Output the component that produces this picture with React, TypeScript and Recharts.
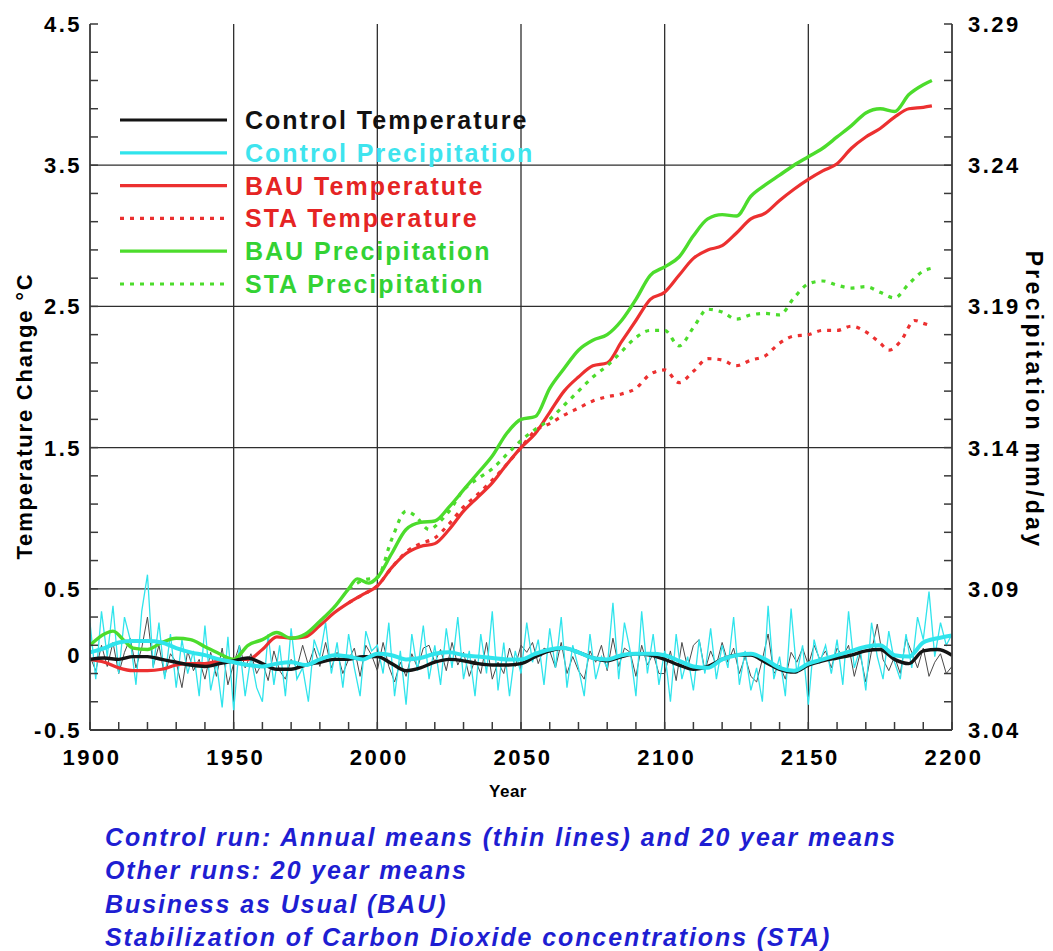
import React from 'react';
import { LineChart, Line, XAxis, YAxis, ReferenceLine } from 'recharts';

const FONT = "'Liberation Sans', Arial, Helvetica, sans-serif";
const AXIS_COLOR = '#3a3a3a';
const GRID_COLOR = '#2e2e2e';

const BLACK = '#141414';
const CYAN = '#30e4ec';
const RED = '#ec3030';
const GREEN = '#4cdc2c';

// axes
const X_TICKS = [1900, 1910, 1920, 1930, 1940, 1950, 1960, 1970, 1980, 1990, 2000, 2010, 2020, 2030, 2040, 2050,
  2060, 2070, 2080, 2090, 2100, 2110, 2120, 2130, 2140, 2150, 2160, 2170, 2180, 2190, 2200];
const X_LABELS = [1900, 1950, 2000, 2050, 2100, 2150, 2200];
const X_GRID = [1950, 2000, 2050, 2100, 2150];

const TEMP_TICKS = [-0.5, -0.3, -0.1, 0, 0.1, 0.3, 0.5, 0.7, 0.9, 1.1, 1.3, 1.5, 1.7, 1.9, 2.1, 2.3, 2.5, 2.7, 2.9,
  3.1, 3.3, 3.5, 3.7, 3.9, 4.1, 4.3, 4.5];
const TEMP_LABELS = [-0.5, 0, 0.5, 1.5, 2.5, 3.5, 4.5];
const TEMP_GRID = [0.5, 1.5, 2.5, 3.5];

const PRECIP_TICKS = [3.04, 3.05, 3.06, 3.07, 3.08, 3.09, 3.1, 3.11, 3.12, 3.13, 3.14, 3.15, 3.16, 3.17, 3.18,
  3.19, 3.2, 3.21, 3.22, 3.23, 3.24, 3.25, 3.26, 3.27, 3.28, 3.29];
const PRECIP_LABELS = [3.04, 3.09, 3.14, 3.19, 3.24, 3.29];

// control run, annual means (every 2nd year)
const ANNUAL_YEARS = Array.from({ length: 151 }, (_, i) => 1900 + 2 * i);
const CONTROL_TEMP_ANNUAL = [
  0.02, -0.08, 0.1, -0.05, 0.12, -0.1, 0.05, 0.15, -0.06, 0.08,
  0.3, -0.05, 0.1, -0.12, 0.04, -0.02, -0.2, 0.06, -0.08, 0.0,
  -0.14, 0.05, -0.12, 0.08, -0.18, -0.03, 0.1, -0.06, 0.04, -0.1,
  -0.02, -0.15, 0.06, -0.08, -0.14, 0.0, -0.06, 0.1, -0.04, 0.08,
  -0.05, 0.12, -0.06, 0.05, -0.1, 0.0, 0.08, -0.12, 0.1, 0.03,
  -0.08, 0.12, -0.05, -0.16, -0.02, -0.12, 0.04, -0.06, 0.08, 0.1,
  -0.02, 0.07, -0.08, 0.12, -0.04, 0.05, -0.12, 0.0, -0.1, 0.12,
  -0.14, -0.02, -0.1, 0.08, -0.05, 0.1, 0.05, 0.12, -0.03, 0.08,
  0.06, -0.06, 0.12, -0.1, 0.02, -0.08, -0.14, 0.06, -0.02, 0.1,
  -0.08, 0.15, -0.05, 0.08, 0.05, -0.12, 0.1, -0.04, 0.04, -0.1,
  -0.1, 0.06, -0.15, 0.12, -0.06, 0.1, 0.14, -0.08, 0.06, -0.04,
  0.12, -0.02, 0.08, -0.1, 0.02, -0.12, -0.16, 0.0, 0.18, -0.1,
  -0.04, -0.14, 0.05, -0.02, 0.08, -0.04, 0.1, 0.0, 0.06, -0.06,
  0.08, 0.02, 0.1, -0.12, 0.04, -0.16, 0.06, 0.25, 0.0, -0.08,
  0.02, -0.1, 0.15, 0.05, -0.06, 0.08, -0.12, -0.02, 0.04, -0.1,
  -0.05,
];
const CONTROL_PRECIP_ANNUAL = [
  3.078, 3.058, 3.082, 3.066, 3.084, 3.06, 3.08, 3.072, 3.056, 3.082,
  3.095, 3.062, 3.078, 3.058, 3.074, 3.055, 3.072, 3.06, 3.068, 3.052,
  3.077, 3.054, 3.064, 3.048, 3.073, 3.047, 3.07, 3.052, 3.066, 3.055,
  3.05, 3.074, 3.056, 3.07, 3.052, 3.076, 3.058, 3.062, 3.05, 3.072,
  3.066, 3.078, 3.06, 3.071, 3.055, 3.074, 3.062, 3.052, 3.075, 3.068,
  3.07, 3.06, 3.078, 3.052, 3.068, 3.049, 3.074, 3.061, 3.077, 3.058,
  3.07, 3.056, 3.076, 3.062, 3.08, 3.058, 3.068, 3.052, 3.074, 3.06,
  3.082, 3.054, 3.071, 3.052, 3.068, 3.06, 3.078, 3.064, 3.072, 3.056,
  3.076, 3.062, 3.08, 3.055, 3.07, 3.062, 3.052, 3.074, 3.058, 3.066,
  3.062, 3.085, 3.058, 3.078, 3.068, 3.052, 3.082, 3.06, 3.074, 3.056,
  3.068, 3.05, 3.074, 3.058, 3.066, 3.054, 3.072, 3.06, 3.076, 3.058,
  3.07, 3.062, 3.08, 3.056, 3.068, 3.054, 3.062, 3.05, 3.084, 3.058,
  3.066, 3.052, 3.083, 3.06, 3.07, 3.049, 3.072, 3.064, 3.07, 3.06,
  3.072, 3.056, 3.082, 3.062, 3.069, 3.054, 3.078, 3.066, 3.058, 3.075,
  3.064, 3.058, 3.074, 3.062, 3.08, 3.072, 3.089, 3.066, 3.078, 3.07,
  3.074,
];

// control run, 20 year means (every 5th year)
const MEAN_YEARS = Array.from({ length: 61 }, (_, i) => 1900 + 5 * i);
const CONTROL_TEMP_MEAN = [
  0.0, 0.01, 0.0, 0.02, 0.02, 0.0, -0.02, -0.04, -0.05, -0.03,
  -0.01, 0.01, -0.03, -0.07, -0.07, -0.04, -0.02, 0.0, 0.0, 0.02,
  0.02, -0.03, -0.08, -0.06, -0.02, 0.0, -0.01, -0.03, -0.04, -0.04,
  -0.03, 0.02, 0.06, 0.08, 0.05, 0.01, -0.01, 0.02, 0.04, 0.03,
  0.0, -0.04, -0.07, -0.05, 0.0, 0.03, 0.03, -0.02, -0.07, -0.09,
  -0.04, -0.01, 0.01, 0.03, 0.06, 0.07, 0.0, -0.03, 0.06, 0.07,
  0.03,
];
const CONTROL_PRECIP_MEAN = [
  3.0675, 3.069, 3.071, 3.0715, 3.0715, 3.071, 3.069, 3.0675, 3.0665, 3.065,
  3.064, 3.063, 3.0625, 3.0635, 3.064, 3.063, 3.065, 3.0665, 3.066, 3.065,
  3.067, 3.0665, 3.065, 3.0655, 3.067, 3.0675, 3.0665, 3.066, 3.0655, 3.065,
  3.065, 3.067, 3.0685, 3.069, 3.0675, 3.0655, 3.065, 3.0665, 3.067, 3.067,
  3.0665, 3.0645, 3.0625, 3.062, 3.065, 3.0665, 3.067, 3.065, 3.062, 3.061,
  3.0635, 3.065, 3.0665, 3.068, 3.0695, 3.07, 3.0665, 3.066, 3.071, 3.0725,
  3.0735,
];

// Business as Usual, 20 year means
const BAU_TEMP_YEARS = [1900, 1905, 1910, 1915, 1920, 1925, 1930, 1935, 1940, 1945, 1950, 1955, 1960, 1965, 1970,
  1975, 1980, 1985, 1990, 1995, 2000, 2005, 2010, 2015, 2020, 2025, 2030, 2035, 2040, 2045, 2050, 2055, 2060, 2065,
  2070, 2075, 2080, 2085, 2090, 2095, 2100, 2105, 2110, 2115, 2120, 2125, 2130, 2135, 2140, 2145, 2150, 2155, 2160,
  2165, 2170, 2175, 2180, 2185, 2190, 2193];
const BAU_TEMP = [0.0, -0.02, -0.06, -0.08, -0.08, -0.07, -0.04, -0.03, -0.03, -0.01, 0.0, 0.0, 0.07, 0.16, 0.15,
  0.16, 0.24, 0.33, 0.4, 0.46, 0.52, 0.65, 0.75, 0.8, 0.82, 0.92, 1.05, 1.15, 1.25, 1.38, 1.5, 1.6, 1.75, 1.9,
  2.0, 2.08, 2.1, 2.25, 2.4, 2.55, 2.6, 2.72, 2.84, 2.9, 2.93, 3.02, 3.12, 3.16, 3.25, 3.33, 3.4, 3.46, 3.51,
  3.62, 3.7, 3.76, 3.84, 3.9, 3.91, 3.92];

const BAU_PRECIP_YEARS = [1900, 1905, 1908, 1912, 1915, 1920, 1925, 1930, 1935, 1940, 1945, 1950, 1955, 1960, 1965,
  1970, 1975, 1980, 1985, 1990, 1993, 1997, 2000, 2005, 2010, 2015, 2020, 2025, 2030, 2035, 2040, 2045, 2050, 2055,
  2060, 2065, 2070, 2075, 2080, 2085, 2090, 2095, 2100, 2105, 2110, 2115, 2120, 2125, 2130, 2135, 2140, 2145, 2150,
  2155, 2160, 2165, 2170, 2175, 2180, 2185, 2190, 2193];
const BAU_PRECIP = [3.07, 3.074, 3.075, 3.0715, 3.069, 3.0685, 3.071, 3.0725, 3.072, 3.0695, 3.067, 3.065, 3.07,
  3.072, 3.0745, 3.0725, 3.074, 3.0785, 3.0835, 3.09, 3.0935, 3.092, 3.094, 3.1025, 3.111, 3.1135, 3.114, 3.119,
  3.125, 3.131, 3.137, 3.145, 3.15, 3.151, 3.161, 3.168, 3.1745, 3.178, 3.18, 3.185, 3.1925, 3.201, 3.204,
  3.2075, 3.215, 3.221, 3.2225, 3.222, 3.229, 3.233, 3.2365, 3.24, 3.243, 3.246, 3.25, 3.254, 3.2585, 3.26,
  3.259, 3.265, 3.2685, 3.27];

// Stabilization of CO2, 20 year means
const STA_TEMP_YEARS = [1990, 1995, 2000, 2005, 2010, 2015, 2020, 2025, 2030, 2035, 2040, 2045, 2050, 2055, 2060,
  2065, 2070, 2075, 2080, 2085, 2090, 2095, 2100, 2105, 2110, 2115, 2120, 2125, 2130, 2135, 2140, 2145, 2150, 2155,
  2160, 2165, 2170, 2175, 2178, 2182, 2187, 2190, 2193];
const STA_TEMP = [0.4, 0.46, 0.52, 0.65, 0.76, 0.82, 0.86, 0.96, 1.08, 1.17, 1.27, 1.38, 1.5, 1.62, 1.67, 1.73,
  1.78, 1.83, 1.86, 1.88, 1.92, 2.02, 2.05, 1.96, 2.04, 2.13, 2.12, 2.08, 2.12, 2.15, 2.24, 2.29, 2.3, 2.33, 2.33,
  2.36, 2.32, 2.24, 2.19, 2.25, 2.4, 2.38, 2.36];

const STA_PRECIP_YEARS = [1990, 1995, 2000, 2005, 2010, 2013, 2018, 2022, 2025, 2030, 2035, 2040, 2045, 2050, 2055,
  2060, 2065, 2070, 2075, 2080, 2085, 2090, 2095, 2100, 2105, 2110, 2115, 2120, 2125, 2130, 2135, 2140, 2145, 2150,
  2155, 2160, 2165, 2170, 2175, 2180, 2185, 2190, 2193];
const STA_PRECIP = [3.09, 3.093, 3.094, 3.1075, 3.1175, 3.116, 3.111, 3.114, 3.1175, 3.125, 3.129, 3.1325, 3.1375,
  3.1425, 3.1465, 3.15, 3.155, 3.16, 3.165, 3.169, 3.174, 3.179, 3.1815, 3.1815, 3.176, 3.1825, 3.189, 3.188,
  3.1855, 3.187, 3.1875, 3.187, 3.193, 3.198, 3.199, 3.1975, 3.1965, 3.197, 3.195, 3.193, 3.198, 3.2025, 3.2035];

const LEGEND = [
  { label: 'Control Temperature', color: BLACK, text: '#111', dash: undefined },
  { label: 'Control Precipitation', color: CYAN, text: '#3ee4ee', dash: undefined },
  { label: 'BAU Temperatute', color: RED, text: '#e52424', dash: undefined },
  { label: 'STA Temperature', color: RED, text: '#e52424', dash: '4 6' },
  { label: 'BAU Precipitation', color: GREEN, text: '#33d233', dash: undefined },
  { label: 'STA Precipitation', color: GREEN, text: '#33d233', dash: '4 6' },
];

const NOTES = [
  'Control run: Annual means (thin lines) and 20 year means',
  'Other runs: 20 year means',
  'Business as Usual (BAU)',
  'Stabilization of Carbon Dioxide concentrations (STA)',
];

const toSeries = (years: number[], values: number[]) => years.map((year, i) => ({ year, v: values[i] }));

const TICK_LEN = 8;
const labelStyle = { fontFamily: FONT, fontWeight: 700, fontSize: 22, letterSpacing: 2.5, fill: '#000' };

// inward tick marks + labels, drawn by hand since recharts only draws outward ticks
const BottomTick = (p: any) => {
  const v = p.payload.value;
  const base = p.y - 19;
  return (
    <g>
      <line x1={p.x} x2={p.x} y1={base} y2={base - TICK_LEN} stroke={AXIS_COLOR} strokeWidth={1.5} />
      {X_LABELS.includes(v) && (
        <text x={p.x + 2} y={p.y} dy="0.72em" textAnchor="middle" {...labelStyle}>{v}</text>
      )}
    </g>
  );
};

const TopTick = (p: any) => (
  <line x1={p.x} x2={p.x} y1={p.y} y2={p.y + TICK_LEN} stroke={AXIS_COLOR} strokeWidth={1.5} />
);

const LeftTick = (p: any) => {
  const v = p.payload.value;
  const base = p.x + 8;
  return (
    <g>
      {v !== 0 && <line x1={base} x2={base + TICK_LEN} y1={p.y} y2={p.y} stroke={AXIS_COLOR} strokeWidth={1.5} />}
      {TEMP_LABELS.includes(v) && (
        <text x={p.x} y={v === 0 ? p.y - 4 : p.y} dy="0.36em" textAnchor="end" {...labelStyle}>{String(v)}</text>
      )}
    </g>
  );
};

const RightTick = (p: any) => {
  const v = p.payload.value;
  const base = p.x - 16;
  return (
    <g>
      <line x1={base} x2={base - TICK_LEN} y1={p.y} y2={p.y} stroke={AXIS_COLOR} strokeWidth={1.5} />
      {PRECIP_LABELS.includes(v) && (
        <text x={p.x} y={p.y} dy="0.36em" textAnchor="start" {...labelStyle}>{v.toFixed(2)}</text>
      )}
    </g>
  );
};

export default function App() {
  return (
    <div style={{ position: 'absolute', left: 0, top: 0, width: 1053, height: 951, background: '#fff' }}>
      <LineChart width={1053} height={800} margin={{ top: 24, right: 0, bottom: 0, left: 0 }}>
        <XAxis xAxisId="bottom" dataKey="year" type="number" domain={[1900, 2200]} ticks={X_TICKS} interval={0}
          height={70} tickSize={0} tickMargin={19} tickLine={false} tick={<BottomTick />}
          axisLine={{ stroke: AXIS_COLOR, strokeWidth: 1.8 }} allowDataOverflow />
        <XAxis xAxisId="top" orientation="top" dataKey="year" type="number" domain={[1900, 2200]} ticks={X_TICKS}
          interval={0} height={0} tickSize={0} tickMargin={0} tickLine={false} tick={<TopTick />}
          axisLine={{ stroke: AXIS_COLOR, strokeWidth: 1.8 }} allowDataOverflow />
        <YAxis yAxisId="left" type="number" domain={[-0.5, 4.5]} ticks={TEMP_TICKS} interval={0} width={90}
          tickSize={0} tickMargin={8} tickLine={false} tick={<LeftTick />}
          axisLine={{ stroke: AXIS_COLOR, strokeWidth: 1.8 }} allowDataOverflow />
        <YAxis yAxisId="right" orientation="right" type="number" domain={[3.04, 3.29]} ticks={PRECIP_TICKS}
          interval={0} width={101} tickSize={0} tickMargin={16} tickLine={false} tick={<RightTick />}
          axisLine={{ stroke: AXIS_COLOR, strokeWidth: 1.8 }} allowDataOverflow />

        {TEMP_GRID.map((v) => (
          <ReferenceLine key={`h${v}`} xAxisId="bottom" yAxisId="left" y={v} stroke={GRID_COLOR} strokeWidth={1.3} />
        ))}
        {X_GRID.map((v) => (
          <ReferenceLine key={`v${v}`} xAxisId="bottom" yAxisId="left" x={v} stroke={GRID_COLOR} strokeWidth={1.3} />
        ))}

        <Line xAxisId="bottom" yAxisId="left" data={toSeries(ANNUAL_YEARS, CONTROL_TEMP_ANNUAL)} dataKey="v"
          type="linear" stroke="#4a4a4a" strokeWidth={1} dot={false} activeDot={false} isAnimationActive={false} />
        <Line xAxisId="bottom" yAxisId="right" data={toSeries(ANNUAL_YEARS, CONTROL_PRECIP_ANNUAL)} dataKey="v"
          type="linear" stroke={CYAN} strokeWidth={1.3} dot={false} activeDot={false} isAnimationActive={false} />
        <Line xAxisId="bottom" yAxisId="left" data={toSeries(BAU_TEMP_YEARS, BAU_TEMP)} dataKey="v"
          type="monotone" stroke={RED} strokeWidth={3.2} dot={false} activeDot={false} isAnimationActive={false} />
        <Line xAxisId="bottom" yAxisId="left" data={toSeries(STA_TEMP_YEARS, STA_TEMP)} dataKey="v"
          type="monotone" stroke={RED} strokeWidth={3.2} strokeDasharray="4 6" dot={false} activeDot={false}
          isAnimationActive={false} />
        <Line xAxisId="bottom" yAxisId="right" data={toSeries(BAU_PRECIP_YEARS, BAU_PRECIP)} dataKey="v"
          type="monotone" stroke={GREEN} strokeWidth={3.4} dot={false} activeDot={false} isAnimationActive={false} />
        <Line xAxisId="bottom" yAxisId="right" data={toSeries(STA_PRECIP_YEARS, STA_PRECIP)} dataKey="v"
          type="monotone" stroke={GREEN} strokeWidth={3.2} strokeDasharray="4 6" dot={false} activeDot={false}
          isAnimationActive={false} />
        <Line xAxisId="bottom" yAxisId="left" data={toSeries(MEAN_YEARS, CONTROL_TEMP_MEAN)} dataKey="v"
          type="monotone" stroke={BLACK} strokeWidth={3.4} dot={false} activeDot={false} isAnimationActive={false} />
        <Line xAxisId="bottom" yAxisId="right" data={toSeries(MEAN_YEARS, CONTROL_PRECIP_MEAN)} dataKey="v"
          type="monotone" stroke={CYAN} strokeWidth={4} dot={false} activeDot={false} isAnimationActive={false} />
      </LineChart>

      {/* legend and axis titles */}
      <svg width={1053} height={820} style={{ position: 'absolute', left: 0, top: 0, pointerEvents: 'none' }}>
        {LEGEND.map((item, i) => {
          const y = 120 + i * 32.8;
          return (
            <g key={item.label}>
              <line x1={120} x2={227} y1={y} y2={y} stroke={item.color} strokeWidth={3.2} strokeDasharray={item.dash} />
              <text x={245} y={y} dy="0.36em" fontFamily={FONT} fontWeight={700} fontSize={25} letterSpacing={2}
                fill={item.text}>{item.label}</text>
            </g>
          );
        })}
        <text transform="translate(24,416) rotate(-90)" textAnchor="middle" dy="0.36em" fontFamily={FONT}
          fontWeight={700} fontSize={22} letterSpacing={1.8} fill="#000">Temperature Change °C</text>
        <text transform="translate(1034,400) rotate(90)" textAnchor="middle" dy="0.36em" fontFamily={FONT}
          fontWeight={700} fontSize={23} letterSpacing={3.3} fill="#000">Precipitation mm/day</text>
        <text x={508} y={791} dy="0.36em" textAnchor="middle" fontFamily={FONT} fontWeight={700} fontSize={17}
          letterSpacing={0.5} fill="#000">Year</text>
      </svg>

      <div style={{ position: 'absolute', left: 105, top: 821, fontFamily: FONT, fontWeight: 700, fontStyle: 'italic',
        fontSize: 25, lineHeight: '33.4px', letterSpacing: 1.9, color: '#1e1ed2', whiteSpace: 'nowrap' }}>
        {NOTES.map((n) => <div key={n}>{n}</div>)}
      </div>
    </div>
  );
}
